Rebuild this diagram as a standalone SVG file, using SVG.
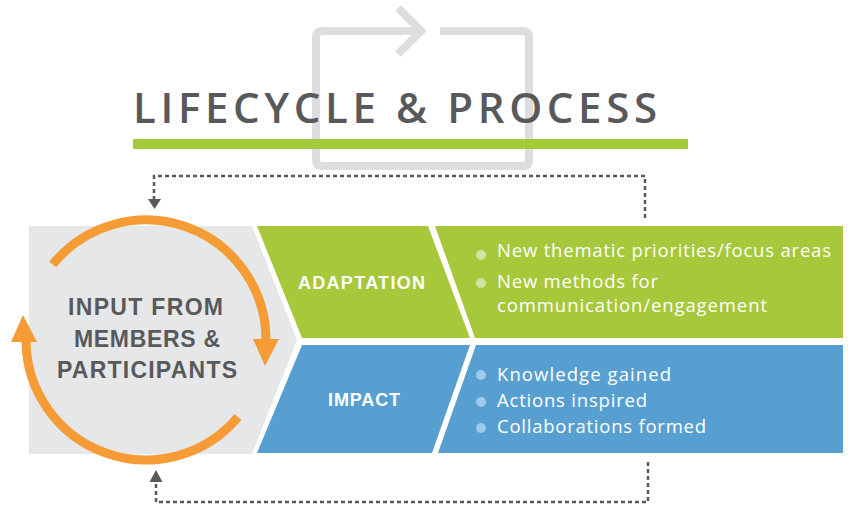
<svg xmlns="http://www.w3.org/2000/svg" width="848" height="505" viewBox="0 0 848 505">
<style>
.title{font-family:"Open Sans","Liberation Sans",Arial,sans-serif;font-size:42px;font-weight:600;fill:#58595b}
.hub{font-family:"Liberation Sans",Arial,sans-serif;font-size:23px;font-weight:bold;fill:#58595b}
.lbl{font-family:"Liberation Sans",Arial,sans-serif;font-size:18px;font-weight:bold;fill:#ffffff}
.item{font-family:"Open Sans","Liberation Sans",Arial,sans-serif;font-size:18.5px;font-weight:500;fill:#ffffff}
.dash{fill:none;stroke:#58595b;stroke-width:2.5;stroke-dasharray:4 3}
.orange{fill:none;stroke:#f59c37;stroke-width:9}
</style>
<rect width="848" height="505" fill="#ffffff"/>
<g id="icon">
<path d="M420,31 H322 Q316,31 316,37 V160 Q316,166 322,166 H523 Q529,166 529,160 V37 Q529,31 523,31 H440" fill="none" stroke="#dcddde" stroke-width="8"/>
<polyline points="398,8 421,31 398,54" fill="none" stroke="#dcddde" stroke-width="8"/>
</g>
<g id="title">
<text class="title" x="133" y="123" textLength="524" lengthAdjust="spacing">LIFECYCLE &amp; PROCESS</text>
<rect x="133" y="139" width="555" height="10" fill="#a6c93a"/>
</g>
<g id="connectors">
<path class="dash" d="M645,218 V176 H154 V199"/>
<polygon points="148,199 161,199 154.5,209" fill="#58595b"/>
<path class="dash" d="M648,462 V502 H156 V482"/>
<polygon points="149.5,482 162.5,482 156,470" fill="#58595b"/>
</g>
<g id="input">
<polygon points="29,226 252,226 297,340 252,454 29,454" fill="#e6e7e8"/>
<path class="orange" d="M52.7,264.5 A120,120 0 0 1 266,340"/>
<polygon points="253,339 279,339 265,366" fill="#f59c37"/>
<path class="orange" d="M238,417 A120,120 0 0 1 26,340"/>
<polygon points="11,342 37,342 23,315" fill="#f59c37"/>
<text class="hub" x="145.5" y="315" text-anchor="middle" textLength="155" lengthAdjust="spacing">INPUT FROM</text>
<text class="hub" x="147" y="347" text-anchor="middle" textLength="146" lengthAdjust="spacing">MEMBERS &amp;</text>
<text class="hub" x="147" y="378" text-anchor="middle" textLength="180" lengthAdjust="spacing">PARTICIPANTS</text>
</g>
<g id="adaptation">
<polygon points="257,226 428,226 470,338 302,338" fill="#a6c83a"/>
<text class="lbl" x="361.5" y="289" text-anchor="middle" textLength="127" lengthAdjust="spacing">ADAPTATION</text>
</g>
<g id="adaptation-details">
<polygon points="435,226 843,226 843,338 475,338" fill="#a6c83a"/>
<circle cx="481" cy="255" r="5" fill="#d3e3a4"/>
<circle cx="481" cy="283" r="5" fill="#d3e3a4"/>
<text class="item" x="497" y="257" textLength="334" lengthAdjust="spacing">New thematic priorities/focus areas</text>
<text class="item" x="497" y="288" textLength="161" lengthAdjust="spacing">New methods for</text>
<text class="item" x="497" y="312" textLength="270" lengthAdjust="spacing">communication/engagement</text>
</g>
<g id="impact">
<polygon points="302,345 470,345 432,453 257,453" fill="#579fd1"/>
<text class="lbl" x="364" y="406" text-anchor="middle" textLength="72" lengthAdjust="spacing">IMPACT</text>
</g>
<g id="impact-details">
<polygon points="476,345 843,345 843,453 438,453" fill="#579fd1"/>
<circle cx="481" cy="375" r="5" fill="#9dcbee"/>
<circle cx="481" cy="402" r="5" fill="#9dcbee"/>
<circle cx="481" cy="428" r="5" fill="#9dcbee"/>
<text class="item" x="497" y="381" textLength="174" lengthAdjust="spacing">Knowledge gained</text>
<text class="item" x="497" y="407" textLength="150" lengthAdjust="spacing">Actions inspired</text>
<text class="item" x="497" y="433" textLength="209" lengthAdjust="spacing">Collaborations formed</text>
</g>
</svg>
